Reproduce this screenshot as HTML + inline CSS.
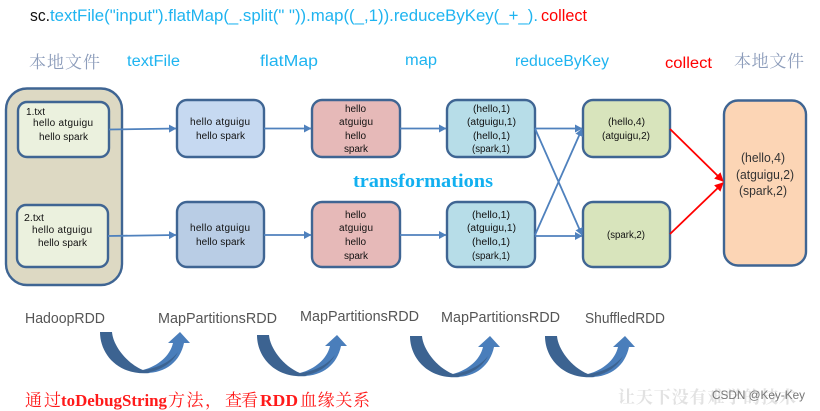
<!DOCTYPE html>
<html><head><meta charset="utf-8"><style>
html,body{margin:0;padding:0;background:#fff;width:820px;height:411px;overflow:hidden}
svg{display:block}
text{font-family:"Liberation Sans","Noto Sans CJK SC",sans-serif}
.n{font-size:10px;fill:#111}
.l{font-size:15px;fill:#555}
.c{font-size:15.5px;fill:#1fb4f0}
.h{font-family:"Noto Serif CJK SC","Liberation Serif",serif;font-size:17px;fill:#8d9dbb}
.box{stroke:#3f6593;stroke-width:2.4}
.ln{stroke:#4f81bd;stroke-width:1.8;fill:none}
.rl{stroke:#ff0000;stroke-width:1.8;fill:none}
.s{font-family:"Liberation Serif","Noto Serif CJK SC",serif;fill:#ff1a1a;font-size:17px}
</style></head><body>
<svg width="820" height="411" viewBox="0 0 820 411" xmlns="http://www.w3.org/2000/svg">
<defs>
<marker id="b" markerWidth="9" markerHeight="9" refX="7" refY="4" orient="auto" markerUnits="userSpaceOnUse"><path d="M0 0L7.5 4L0 8Z" fill="#4f81bd"/></marker>
<marker id="rd" markerWidth="10" markerHeight="10" refX="8" refY="4.5" orient="auto" markerUnits="userSpaceOnUse"><path d="M0 0L9 4.5L0 9Z" fill="#f00"/></marker>
<g id="arc">
<path d="M143 373C165 374 180 362 184 343H190L180 332L168 343H173C170 356 158 366 143 370Z" fill="#4a7ebb"/>
<path d="M143 373C158 372 172 364 178 352C170 362 158 368 143 370Z" fill="#3c6391"/>
<path d="M100 332H112C113 345 126 363 143 370L150 373C118 376 100 354 100 332Z" fill="#3c6391"/>
</g>
</defs>

<text x="30" y="21" font-size="16.5" fill="#111" textLength="20" lengthAdjust="spacingAndGlyphs">sc.</text>
<text x="50" y="21" font-size="16.5" fill="#1fb4f0" textLength="488" lengthAdjust="spacingAndGlyphs">textFile("input").flatMap(_.split(" ")).map((_,1)).reduceByKey(_+_).</text>
<text x="541" y="21" font-size="16.5" fill="#ff0000" textLength="46" lengthAdjust="spacingAndGlyphs">collect</text>

<text class="h" x="29" y="68" textLength="71">本地文件</text>
<text class="h" x="734" y="67" textLength="70">本地文件</text>
<text class="c" x="127" y="66" textLength="53" lengthAdjust="spacingAndGlyphs">textFile</text>
<text class="c" x="260" y="66" textLength="58" lengthAdjust="spacingAndGlyphs">flatMap</text>
<text class="c" x="405" y="65" textLength="32" lengthAdjust="spacingAndGlyphs">map</text>
<text class="c" x="515" y="66" textLength="94" lengthAdjust="spacingAndGlyphs">reduceByKey</text>
<text x="665" y="68" font-size="15.5" fill="#ff0000" textLength="47" lengthAdjust="spacingAndGlyphs">collect</text>

<rect class="box" x="6" y="88.5" width="116" height="196.5" rx="21" fill="#ddd9c3"/>
<rect class="box" x="18" y="102" width="91" height="55" rx="9" fill="#ebf1de"/>
<rect class="box" x="17" y="205" width="91" height="62" rx="9" fill="#ebf1de"/>
<rect class="box" x="177" y="100" width="87" height="57" rx="10" fill="#c6d9f1"/>
<rect class="box" x="177" y="202" width="87" height="65" rx="10" fill="#b9cde5"/>
<rect class="box" x="312" y="100" width="88" height="57" rx="10" fill="#e6b9b8"/>
<rect class="box" x="312" y="202" width="88" height="65" rx="10" fill="#e6b9b8"/>
<rect class="box" x="447" y="100" width="88" height="57" rx="10" fill="#b7dde8"/>
<rect class="box" x="447" y="202" width="88" height="65" rx="10" fill="#b7dde8"/>
<rect class="box" x="583" y="100" width="87" height="57" rx="10" fill="#d8e4bc"/>
<rect class="box" x="583" y="202" width="87" height="65" rx="10" fill="#d8e4bc"/>
<rect class="box" x="724" y="100.5" width="82" height="165" rx="14" fill="#fcd5b5"/>

<line class="ln" x1="109" y1="129.5" x2="176" y2="128.5" marker-end="url(#b)"/>
<line class="ln" x1="108" y1="236" x2="176" y2="235" marker-end="url(#b)"/>
<line class="ln" x1="264" y1="128.5" x2="311" y2="128.5" marker-end="url(#b)"/>
<line class="ln" x1="264" y1="235" x2="311" y2="235" marker-end="url(#b)"/>
<line class="ln" x1="400" y1="128.5" x2="446" y2="128.5" marker-end="url(#b)"/>
<line class="ln" x1="400" y1="235" x2="446" y2="235" marker-end="url(#b)"/>
<line class="ln" x1="535" y1="128.5" x2="582" y2="128.5" marker-end="url(#b)"/>
<line class="ln" x1="535" y1="236" x2="582" y2="236" marker-end="url(#b)"/>
<line class="ln" x1="535" y1="128.5" x2="582" y2="235" marker-end="url(#b)"/>
<line class="ln" x1="535" y1="235" x2="582" y2="129" marker-end="url(#b)"/>
<line class="rl" x1="670" y1="129" x2="723" y2="181" marker-end="url(#rd)"/>
<line class="rl" x1="670" y1="234" x2="723" y2="183" marker-end="url(#rd)"/>

<text class="n" x="26" y="115" textLength="19" lengthAdjust="spacingAndGlyphs">1.txt</text>
<text class="n" x="33" y="126" textLength="60">hello atguigu</text>
<text class="n" x="39" y="140" textLength="49">hello spark</text>
<text class="n" x="24" y="221" textLength="20" lengthAdjust="spacingAndGlyphs">2.txt</text>
<text class="n" x="32" y="233" textLength="60">hello atguigu</text>
<text class="n" x="38" y="246" textLength="49">hello spark</text>

<text class="n" x="190" y="125" textLength="60">hello atguigu</text>
<text class="n" x="196" y="139" textLength="49">hello spark</text>
<text class="n" x="190" y="231" textLength="60">hello atguigu</text>
<text class="n" x="196" y="245" textLength="49">hello spark</text>

<text class="n" x="345" y="112" textLength="21">hello</text>
<text class="n" x="339" y="125" textLength="34">atguigu</text>
<text class="n" x="345" y="139" textLength="21">hello</text>
<text class="n" x="344" y="152" textLength="24">spark</text>
<text class="n" x="345" y="218" textLength="21">hello</text>
<text class="n" x="339" y="231" textLength="34">atguigu</text>
<text class="n" x="345" y="245" textLength="21">hello</text>
<text class="n" x="344" y="259" textLength="24">spark</text>

<text class="n" x="473" y="112" textLength="37" lengthAdjust="spacingAndGlyphs">(hello,1)</text>
<text class="n" x="467" y="125" textLength="49" lengthAdjust="spacingAndGlyphs">(atguigu,1)</text>
<text class="n" x="473" y="139" textLength="37" lengthAdjust="spacingAndGlyphs">(hello,1)</text>
<text class="n" x="472" y="152" textLength="38" lengthAdjust="spacingAndGlyphs">(spark,1)</text>
<text class="n" x="472" y="218" textLength="38" lengthAdjust="spacingAndGlyphs">(hello,1)</text>
<text class="n" x="467" y="231" textLength="49" lengthAdjust="spacingAndGlyphs">(atguigu,1)</text>
<text class="n" x="472" y="245" textLength="38" lengthAdjust="spacingAndGlyphs">(hello,1)</text>
<text class="n" x="472" y="259" textLength="38" lengthAdjust="spacingAndGlyphs">(spark,1)</text>

<text class="n" x="608" y="125" textLength="37" lengthAdjust="spacingAndGlyphs">(hello,4)</text>
<text class="n" x="602" y="139" textLength="48" lengthAdjust="spacingAndGlyphs">(atguigu,2)</text>
<text class="n" x="607" y="238" textLength="38" lengthAdjust="spacingAndGlyphs">(spark,2)</text>

<text x="741" y="162" font-size="13" fill="#333" textLength="44" lengthAdjust="spacingAndGlyphs">(hello,4)</text>
<text x="736" y="179" font-size="13" fill="#333" textLength="58" lengthAdjust="spacingAndGlyphs">(atguigu,2)</text>
<text x="739" y="195" font-size="13" fill="#333" textLength="48" lengthAdjust="spacingAndGlyphs">(spark,2)</text>

<text x="353" y="187" font-weight="bold" font-size="19" fill="#12b0f0" style="font-family:'Liberation Serif',serif" textLength="140" lengthAdjust="spacingAndGlyphs">transformations</text>

<text class="l" x="25" y="323" textLength="80" lengthAdjust="spacingAndGlyphs">HadoopRDD</text>
<text class="l" x="158" y="323" textLength="119" lengthAdjust="spacingAndGlyphs">MapPartitionsRDD</text>
<text class="l" x="300" y="321" textLength="119" lengthAdjust="spacingAndGlyphs">MapPartitionsRDD</text>
<text class="l" x="441" y="322" textLength="119" lengthAdjust="spacingAndGlyphs">MapPartitionsRDD</text>
<text class="l" x="585" y="323" textLength="80" lengthAdjust="spacingAndGlyphs">ShuffledRDD</text>

<use href="#arc"/>
<use href="#arc" transform="translate(157 3)"/>
<use href="#arc" transform="translate(310 4)"/>
<use href="#arc" transform="translate(445 4)"/>

<text class="s" x="25" y="406" textLength="36">通过</text>
<text class="s" x="61" y="406" font-weight="bold" textLength="106" lengthAdjust="spacingAndGlyphs">toDebugString</text>
<text class="s" x="168" y="406" textLength="54">方法，</text>
<text class="s" x="225" y="406" textLength="33">查看</text>
<text class="s" x="260" y="406" font-weight="bold" textLength="38" lengthAdjust="spacingAndGlyphs">RDD</text>
<text class="s" x="300" y="406" textLength="70">血缘关系</text>

<text x="618" y="403" font-size="17" font-weight="bold" fill="#e2e2e2" style="font-family:'Noto Serif CJK SC',serif" textLength="178">让天下没有难学的技术</text>
<text x="712" y="399" font-size="12" fill="#777" textLength="93" lengthAdjust="spacingAndGlyphs">CSDN @Key-Key</text>
</svg>
</body></html>
